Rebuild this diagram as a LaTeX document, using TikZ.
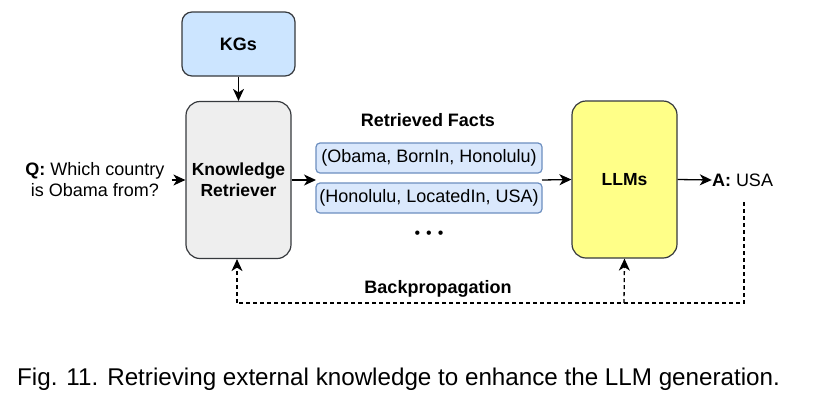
\documentclass[tikz,border=0pt]{standalone}
\usepackage{fontspec}
\setmainfont{Liberation Sans}
\usetikzlibrary{arrows.meta}
\definecolor{kgfill}{HTML}{CCE5FF}
\definecolor{factfill}{HTML}{DAE8FC}
\definecolor{factdraw}{HTML}{6C8EBF}
\definecolor{krfill}{HTML}{EEEEEE}
\definecolor{llmfill}{HTML}{FFFF88}
\definecolor{boxdraw}{HTML}{36393D}
\tikzset{
  base/.style={font=\fontsize{18}{21}\selectfont},
  kgbox/.style={base, draw=boxdraw, fill=kgfill, line width=1.2pt, rounded corners=10pt, minimum width=113pt, minimum height=64pt, font=\fontsize{18}{21}\selectfont\bfseries},
  bigbox/.style={base, draw=boxdraw, line width=1.2pt, rounded corners=14pt, minimum width=105pt, minimum height=157pt, align=center, font=\fontsize{17.5}{21}\selectfont\bfseries},
  factbox/.style={base, draw=factdraw, fill=factfill, line width=1.2pt, rounded corners=4pt, minimum width=226pt, minimum height=30pt, inner sep=0pt},
  tip/.style={-{Stealth[length=12pt,width=11pt,inset=3.5pt]}},
  conn/.style={line width=1.3pt, tip},
  bpline/.style={line width=1.3pt, dash pattern=on 4pt off 3pt},
}
\begin{document}
\begin{tikzpicture}[x=1pt,y=-1pt]
\useasboundingbox (0,0) rectangle (819,405);
\node[kgbox] (kg) at (238.5,44) {KGs};
\node[bigbox, fill=krfill] (kr) at (238.5,180) {Knowledge\\Retriever};
\node[bigbox, fill=llmfill] (llm) at (624.5,179.5) {LLMs};
\node[factbox] (f1) at (429,158) {(Obama, BornIn, Honolulu)};
\node[factbox] (f2) at (429,198) {(Honolulu, LocatedIn, USA)};
\node[base, font=\fontsize{18}{21}\selectfont\bfseries] (rf) at (428,120) {Retrieved Facts};
\node[font=\fontsize{16}{18}\selectfont, inner sep=0pt] (dots) at (429,235) {•\hspace{6pt}•\hspace{6pt}•};
\node[base, align=center, inner sep=0pt] (q) at (95,180) {\textbf{Q:} Which country\\is Obama from?};
\node[base, inner sep=0pt] (a) at (742.5,180) {\textbf{A:} USA};
\node[base, font=\fontsize{18}{21}\selectfont\bfseries] (bp) at (438,289) {Backpropagation};
\node[anchor=base west, inner sep=0pt, font=\fontsize{24.2}{27}\selectfont] (cap) at (17,385) {Fig. 11. Retrieving external knowledge to enhance the LLM generation.};
\coordinate (a0) at (744,202);
\coordinate (c1) at (744,303);
\coordinate (c2) at (624,303);
\coordinate (c3) at (237,303);
\coordinate (fin) at (316,180);
\coordinate (fout) at (542,180);
\draw[conn] (kg) -- (kr);
\draw[conn] (q.east |- kr.west) ++(7,0) -- (kr.west);
\draw[conn] (kr.east) -- (fin);
\draw[conn] (fout) -- (llm.west);
\draw[conn] (llm.east) -- (a.west);
\draw[bpline] (a0) -- (c1) -- (c3);
\draw[bpline, tip] (c3) -- (c3 |- kr.south);
\draw[bpline, tip] (c2) -- (llm.south);
\end{tikzpicture}
\end{document}
